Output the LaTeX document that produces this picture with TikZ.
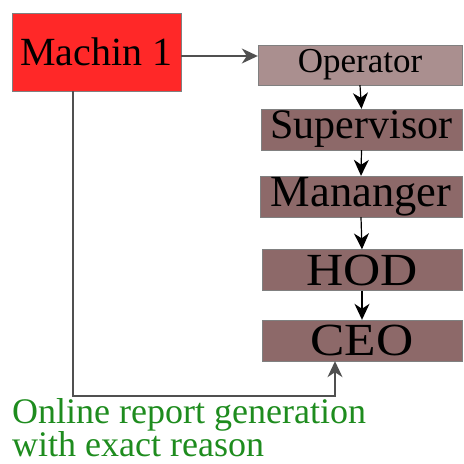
\documentclass[tikz,border=0pt]{standalone}
\usepackage{fontspec}
\setmainfont{Liberation Serif}
\usetikzlibrary{arrows.meta}

\definecolor{machred}{RGB}{255,40,40}
\definecolor{oplight}{RGB}{170,143,143}
\definecolor{rankbrown}{RGB}{141,105,105}
\definecolor{linegray}{RGB}{80,80,80}
\definecolor{reportgreen}{RGB}{30,140,30}

\tikzset{
  rank/.style={draw=gray, fill=rankbrown, minimum width=201pt, minimum height=41pt, inner sep=0pt},
  flow/.style={-{Stealth[length=16pt,width=15pt,inset=5pt]}, line width=1.2pt, black}
}

\begin{document}
\begin{tikzpicture}[x=1pt,y=-1pt]
			\useasboundingbox (0,0) rectangle (464,464);
			% source machine
			\node [draw=gray, fill=machred, minimum width=169pt, minimum height=78pt, inner sep=0pt,
			       font=\fontsize{40}{40}\selectfont] (machin) at (96.5,52) {Machin 1};
			% escalation chain
			\node [rank, fill=oplight, minimum width=204pt, minimum height=40pt,
			       font=\fontsize{35}{35}\selectfont] (operator) at (360,65) {\raisebox{-2pt}{Operator}};
			\node [rank, font=\fontsize{42}{42}\selectfont] (supervisor) at (361.5,129.5) {Supervisor};
			\node [rank, minimum width=202pt, font=\fontsize{44.5}{44.5}\selectfont] (mananger) at (361,196.5) {Mananger};
			\node [rank, minimum width=200pt, font=\fontsize{46}{46}\selectfont] (hod) at (362,270) {\scalebox{1.12}[1]{HOD}};
			\node [rank, minimum width=200pt, font=\fontsize{46}{46}\selectfont] (ceo) at (362,340.5) {\scalebox{1.12}[1]{CEO}};
			% report text
			\node [anchor=north west, align=left, text=reportgreen, inner sep=0pt,
			       font=\fontsize{36}{31}\selectfont] (report) at (12,398) {Online report generation\\with exact reason};
			\coordinate (turn) at (73,396);
			% connectors
			\draw [flow, draw=linegray] ([yshift=-4pt]machin.east) -- ([yshift=-4pt]machin.east -| operator.west);
			\draw [flow] (operator.south) -- (supervisor.north);
			\draw [flow] (supervisor.south) -- (mananger.north);
			\draw [flow] (mananger.south) -- (hod.north);
			\draw [flow] (hod.south) -- (ceo.north);
			\draw [flow, draw=linegray] (turn |- machin.south) -- (turn) -| ([xshift=-27pt]ceo.south);
		\end{tikzpicture}
\end{document}
